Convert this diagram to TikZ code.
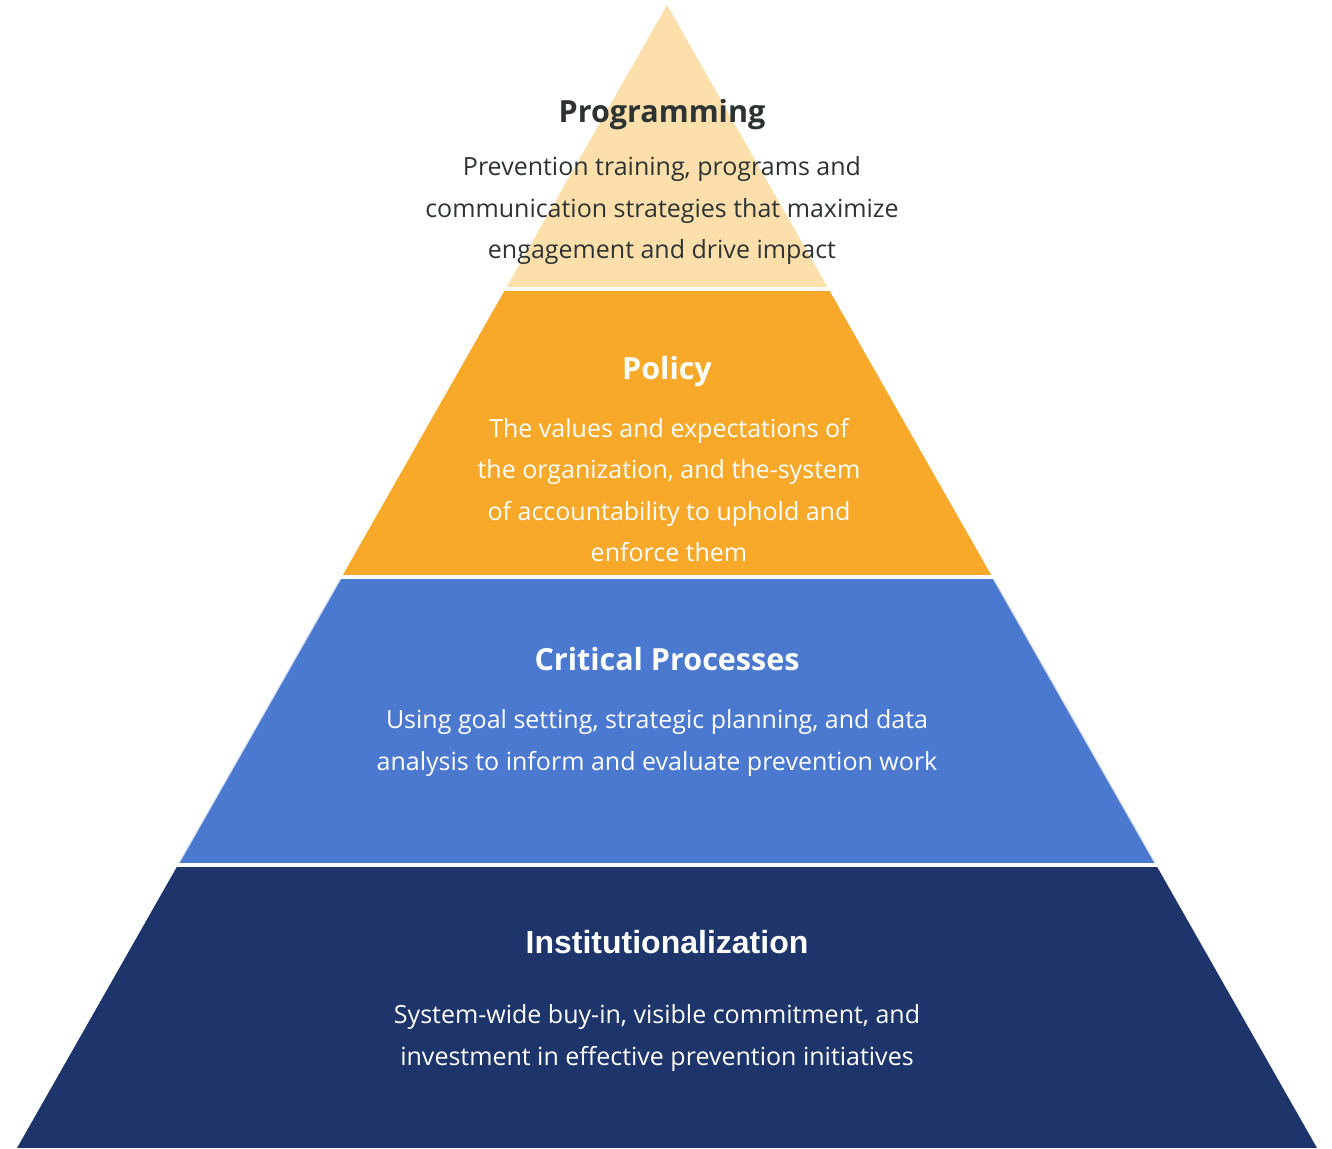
\documentclass[tikz,border=0pt]{standalone}
\usepackage{fontspec}
\setmainfont{Open Sans}
\newfontfamily\arialbold{Liberation Sans}
\definecolor{tierA}{HTML}{FDDFAB}
\definecolor{tierB}{HTML}{F9A92A}
\definecolor{tierC}{HTML}{4B79CF}
\definecolor{tierD}{HTML}{1D356B}
\definecolor{darktext}{HTML}{2D3333}
\definecolor{edgeC}{HTML}{C9D7F2}
\begin{document}
\begin{tikzpicture}[x=1pt,y=-1pt,
  title/.style={font=\fontsize{30.5}{36}\selectfont\bfseries, inner sep=0pt},
  body/.style={font=\fontsize{25}{41.5}\selectfont, align=center, inner sep=0pt}]
\useasboundingbox (0,0) rectangle (1332,1148);
\begin{scope}
  \clip (667,5) -- (1317,1148) -- (17,1148) -- cycle;
  \fill[tierA] (0,0) rectangle (1332,287);
  \fill[tierB] (0,291) rectangle (1332,575);
  \fill[tierC] (0,579) rectangle (1332,862.5);
  \fill[tierD] (0,866.5) rectangle (1332,1148);
\end{scope}
% faint light edges of the blue tier
\draw[edgeC, line width=1pt] (340.6,579) -- (179.4,862.5);
\draw[edgeC, line width=1pt] (993.4,579) -- (1154.6,862.5);

\node[title, text=darktext] (t1) at (662,115) {Programming};
\node[body, text=darktext] (b1) at (662,211) {Prevention training, programs and\\communication strategies that maximize\\engagement and drive impact};

\node[title, text=white] (t2) at (667,372) {Policy};
\node[body, text=white] (b2) at (669,490) {The values and expectations of\\the organization, and the-system\\of accountability to uphold and\\enforce them};

\node[title, text=white] (t3) at (667,659) {Critical Processes};
\node[body, text=white] (b3) at (657,743) {Using goal setting, strategic planning, and data\\analysis to inform and evaluate prevention work};

\node[title, text=white, font=\fontsize{32}{36}\selectfont\arialbold\bfseries] (t4) at (667,942) {Institutionalization};
\node[body, text=white] (b4) at (657,1038) {System-wide buy-in, visible commitment, and\\investment in effective prevention initiatives};
\end{tikzpicture}
\end{document}
